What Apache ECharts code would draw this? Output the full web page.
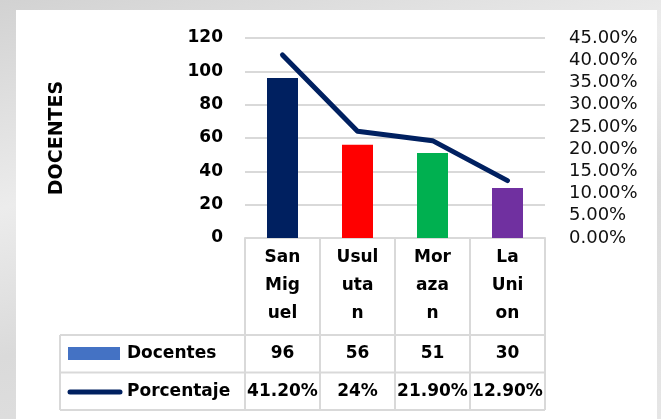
<!DOCTYPE html>
<html>
<head>
<meta charset="utf-8">
<script src="https://cdn.jsdelivr.net/npm/echarts@6/dist/echarts.min.js"></script>
<style>
  html, body { margin: 0; padding: 0; }
  body {
    width: 661px; height: 419px; position: relative; overflow: hidden;
    background: linear-gradient(165deg, #d2d2d2 0%, #ececec 35%, #dadada 60%, #e6e6e6 100%);
  }
  .panel { position: absolute; left: 16px; top: 10px; width: 641px; height: 420px; background: #fff; }
  #chart { position: absolute; left: 0; top: 0; width: 661px; height: 419px; }
</style>
</head>
<body>
<div class="panel"></div>
<div id="chart"></div>
<script>
// data
const categories = ['San Miguel', 'Usulutan', 'Morazan', 'La Union'];
const categoryLabels = ['San\nMig\nuel', 'Usul\nuta\nn', 'Mor\naza\nn', 'La\nUni\non'];
const docentes = [96, 56, 51, 30];
const porcentaje = [0.412, 0.24, 0.219, 0.129];
const porcentajeLabels = ['41.20%', '24%', '21.90%', '12.90%'];
const barColors = ['#002060', '#ff0000', '#00b050', '#7030a0'];

const FONT = 'DejaVu Sans';
const BORDER = '#d9d9d9';

var myChart = echarts.init(document.getElementById('chart'));
var option = {
  animation: false,
  backgroundColor: 'transparent',
  grid: { left: 245, top: 38, width: 300, height: 200 },
  xAxis: {
    type: 'category',
    data: categories,
    axisLine: { lineStyle: { color: BORDER, width: 2 } },
    // the ticks double as the table's column borders
    axisTick: { show: true, length: 172, lineStyle: { color: BORDER, width: 2 } },
    axisLabel: {
      formatter: (v, i) => categoryLabels[i],
      fontFamily: FONT, fontWeight: 'bold', fontSize: 17,
      lineHeight: 28, margin: 6, color: '#000'
    }
  },
  yAxis: [
    {
      type: 'value', min: 0, max: 120, interval: 20,
      name: 'DOCENTES', nameLocation: 'middle', nameRotate: 90, nameGap: 178,
      nameTextStyle: { fontFamily: FONT, fontWeight: 'bold', fontSize: 19, color: '#000' },
      axisLine: { show: false }, axisTick: { show: false },
      axisLabel: { fontFamily: FONT, fontWeight: 'bold', fontSize: 17, color: '#000', margin: 22 },
      splitLine: { lineStyle: { color: BORDER, width: 2 } }
    },
    {
      type: 'value', min: 0, max: 0.45, interval: 0.05, position: 'right',
      axisLine: { show: false }, axisTick: { show: false }, splitLine: { show: false },
      axisLabel: {
        formatter: v => (v * 100).toFixed(2) + '%',
        fontFamily: FONT, fontSize: 18, color: '#111', margin: 24
      }
    }
  ],
  series: [
    {
      name: 'Docentes', type: 'bar', barWidth: 31,
      itemStyle: { color: '#4472c4' },
      data: docentes.map((v, i) => ({ value: v, itemStyle: { color: barColors[i] } }))
    },
    {
      name: 'Porcentaje', type: 'line', yAxisIndex: 1,
      symbol: 'none',
      lineStyle: { color: '#002060', width: 5, cap: 'round', join: 'round' },
      data: porcentaje
    }
  ]
};
myChart.setOption(option);

// data table under the plot
const rowTop = 335, rowH = 37.5, tableLeft = 60;
const c0 = myChart.convertToPixel({ xAxisIndex: 0 }, 0);
const c1 = myChart.convertToPixel({ xAxisIndex: 0 }, 1);
const xRight = myChart.convertToPixel({ xAxisIndex: 0 }, categories.length - 1) + (c1 - c0) / 2;
const graphics = [];
[0, 1, 2].forEach(k => {
  const y = rowTop + k * rowH;
  graphics.push({ type: 'line', shape: { x1: tableLeft, y1: y, x2: xRight, y2: y }, style: { stroke: BORDER, lineWidth: 2 } });
});
graphics.push({ type: 'line', shape: { x1: tableLeft, y1: rowTop, x2: tableLeft, y2: rowTop + 2 * rowH }, style: { stroke: BORDER, lineWidth: 2 } });

// legend keys
graphics.push({ type: 'rect', shape: { x: 68, y: 347, width: 52, height: 13 }, style: { fill: '#4472c4' } });
graphics.push({ type: 'line', shape: { x1: 70, y1: 392, x2: 120, y2: 392 }, style: { stroke: '#002060', lineWidth: 5, lineCap: 'round' } });
['Docentes', 'Porcentaje'].forEach((t, k) => {
  graphics.push({ type: 'text', x: 127, y: rowTop + k * rowH + rowH / 2,
    style: { text: t, fontFamily: FONT, fontWeight: 'bold', fontSize: 17, fill: '#000', verticalAlign: 'middle', align: 'left' } });
});
categories.forEach((c, i) => {
  const cx = myChart.convertToPixel({ xAxisIndex: 0 }, i);
  [String(docentes[i]), porcentajeLabels[i]].forEach((t, k) => {
    graphics.push({ type: 'text', x: cx, y: rowTop + k * rowH + rowH / 2,
      style: { text: t, fontFamily: FONT, fontWeight: 'bold', fontSize: 17, fill: '#000', align: 'center', verticalAlign: 'middle' } });
  });
});
myChart.setOption({ graphic: graphics });
</script>
</body>
</html>
